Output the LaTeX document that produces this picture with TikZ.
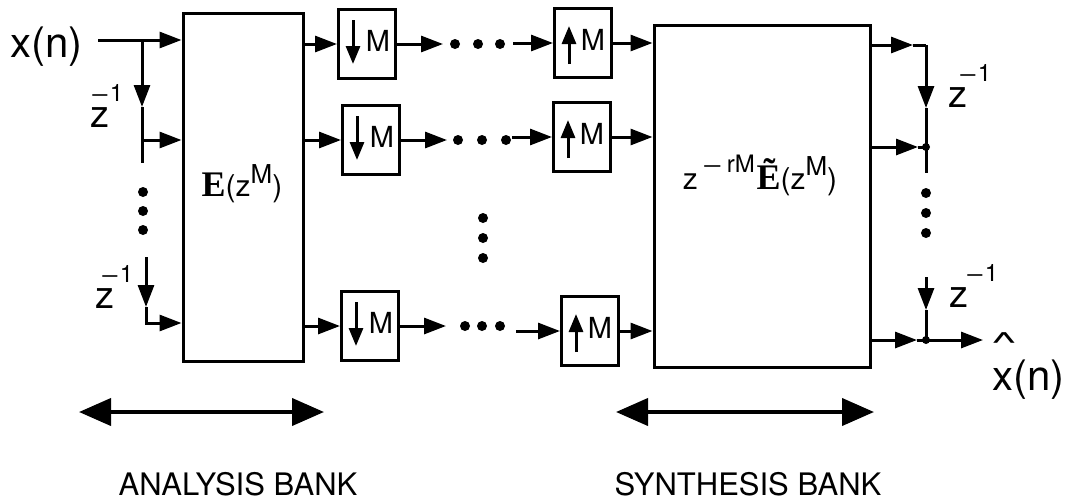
\documentclass[tikz,border=0pt]{standalone}
\usepackage{graphicx}
\usepackage{fontspec}
\setmainfont{TeX Gyre Heros}
\newfontfamily\serifE{Liberation Serif}
\usetikzlibrary{arrows.meta,calc}
\newcommand\zminus[1]{z\kern#1\raisebox{26pt}{\fontsize{24}{24}\selectfont\scalebox{1.4}[1]{−}1}}
\begin{document}
\begin{tikzpicture}[x=1pt,y=-1pt,
  wire/.style={line width=3pt},
  arr/.style={line width=3pt,-{Triangle[length=22pt,width=16pt]}},
  inarr/.style={line width=3pt,-{Triangle[length=18pt,width=14pt]}},
  dbl/.style={line width=4pt,{Triangle[length=32pt,width=27pt]}-{Triangle[length=32pt,width=27pt]}},
  bigbox/.style={draw,line width=3pt,inner sep=0pt},
  smallbox/.style={draw,line width=3pt,inner sep=0pt,minimum width=57pt,minimum height=69pt},
  mlab/.style={inner sep=0pt,font=\fontsize{29}{32}\selectfont},
  zlab/.style={anchor=base west,inner sep=0pt,font=\fontsize{38}{42}\selectfont},
  banklab/.style={anchor=base,inner sep=0pt,font=\fontsize{31}{36}\selectfont},
  bigdot/.style={circle,fill,inner sep=0pt,minimum size=10pt},
  jdot/.style={circle,fill,inner sep=0pt,minimum size=8pt}]
\useasboundingbox (0,0) rectangle (1073,501);

% main boxes
\node[bigbox,minimum width=120pt,minimum height=348pt] (E) at (243,187) {};
\node[anchor=base,inner sep=0pt] (Elab) at (242,196)
  {{\serifE\bfseries\fontsize{36}{40}\selectfont E}{\fontsize{30}{36}\selectfont(z\raisebox{13pt}{\fontsize{26}{26}\selectfont M})}};
\node[bigbox,minimum width=216pt,minimum height=342pt] (S) at (762,196) {};
\node[anchor=base,inner sep=0pt] (Slab) at (760,189)
  {{\fontsize{30}{32}\selectfont z}\raisebox{17pt}{\fontsize{24}{24}\selectfont\,\scalebox{1.5}[1]{−}\,rM}\,{\serifE\bfseries\fontsize{36}{40}\selectfont Ẽ}{\fontsize{30}{32}\selectfont(z\raisebox{14pt}{\fontsize{26}{26}\selectfont M})}};

% decimators and expanders
\node[smallbox] (d1) at (367,44) {};
\node[smallbox] (d2) at (371,140) {};
\node[smallbox] (d3) at (370,326) {};
\node[smallbox] (u1) at (583,43) {};
\node[smallbox] (u2) at (582,137) {};
\node[smallbox] (u3) at (590,331) {};
\foreach \b in {d1,d2,d3}{
  \draw[inarr] ($(\b.center)+(-14,-24)$) -- ($(\b.center)+(-14,20)$);
  \node[mlab] (m\b) at ($(\b.center)+(11,-3)$) {M};
}
\foreach \b in {u1,u2,u3}{
  \draw[inarr] ($(\b.center)+(-14,21)$) -- ($(\b.center)+(-14,-17)$);
  \node[mlab] (m\b) at ($(\b.center)+(10,-3)$) {M};
}

% input side
\node[anchor=base west,inner sep=0pt,font=\fontsize{42}{48}\selectfont] (xn) at (10,57) {x(n)};
\coordinate (xin) at (98,40);
\draw[arr] (xin) -- (xin -| E.west);
\coordinate (b1) at (142,40);
\coordinate (t1) at (142,107);
\coordinate (h2) at (142,140);
\coordinate (e1) at (142,163);
\draw[arr] (b1) -- (t1);
\draw[wire] (t1) -- (e1);
\draw[arr] (h2) -- (h2 -| E.west);
\coordinate (b3) at (146,257);
\coordinate (t3) at (146,307);
\coordinate (h3) at (146,323);
\draw[arr] (b3) -- (t3);
\draw[arr] (t3) -- (h3) -- (h3 -| E.west);
\node[zlab] (zl1) at (90,127) {\zminus{-19pt}};
\node[zlab] (zl2) at (95,308) {\zminus{-14pt}};
\foreach \y in {192,211,230} \node[bigdot] at (143,\y) {};

% middle
\foreach \r in {1,2,3}{
  \draw[arr] (E.east |- d\r) -- (d\r.west);
  \coordinate (a\r) at ($(d\r.east)+(46,0)$);
  \draw[arr] (d\r.east) -- (a\r);
  \draw[arr] (u\r.east) -- (u\r.east -| S.west);
}
\coordinate (c1) at ($(u1.west)+(-40,0)$);
\coordinate (c2) at ($(u2.west)+(-40,0)$);
\coordinate (c3) at ($(u3.west)+(-44,0)$);
\draw[arr] (c1) -- (u1.west);
\draw[arr] (c2) -- (u2.west);
\draw[arr] (c3) -- (u3.west);
\foreach \x in {455,478,500} \node[bigdot] at (\x,44) {};
\foreach \x in {458,482,506} \node[bigdot] at (\x,140) {};
\foreach \x in {465,482,500} \node[bigdot] at (\x,326) {};
\foreach \y in {218,238,258} \node[bigdot] at (483,\y) {};

% output side
\coordinate (r1) at (926,45);
\coordinate (m1) at (913,45);
\coordinate (v1) at (926,108);
\coordinate (v1e) at (926,173);
\draw[arr] (S.east |- r1) -- (m1);
\draw[wire] (m1) -- (r1);
\draw[arr] (r1) -- (v1);
\draw[wire] (v1) -- (v1e);
\coordinate (r2) at (926,147);
\coordinate (m2) at (918,147);
\draw[arr] (S.east |- r2) -- (m2);
\draw[wire] (m2) -- (r2);
\node[jdot] at (r2) {};
\foreach \y in {193,213,233} \node[bigdot] at (926,\y) {};
\coordinate (v3s) at (926,277);
\coordinate (v3) at (926,310);
\coordinate (r3) at (926,340);
\coordinate (m3) at (917,340);
\coordinate (xout) at (983,340);
\draw[arr] (v3s) -- (v3);
\draw[wire] (v3) -- (r3);
\draw[arr] (S.east |- r3) -- (m3);
\draw[wire] (m3) -- (r3);
\draw[arr] (r3) -- (xout);
\node[jdot] at (r3) {};
\node[zlab] (zr1) at (948,107) {\zminus{-9pt}};
\node[zlab] (zr2) at (949,307) {\zminus{-3pt}};
\node[inner sep=0pt,font=\fontsize{40}{44}\selectfont] (hat) at (1004,343) {\scalebox{1.4}[0.7]{\textasciicircum}};
\node[anchor=base west,inner sep=0pt,font=\fontsize{42}{48}\selectfont] (xhat) at (992,390) {x(n)};

% bank arrows
\coordinate (aL) at (79,412);
\coordinate (aR) at (324,412);
\coordinate (sL) at (616,412);
\coordinate (sR) at (874,412);
\draw[dbl] (aL) -- (aR);
\draw[dbl] (sL) -- (sR);
\node[banklab] (ab) at (238,495) {ANALYSIS BANK};
\node[banklab] (sb) at (748,495) {SYNTHESIS BANK};
\end{tikzpicture}
\end{document}
